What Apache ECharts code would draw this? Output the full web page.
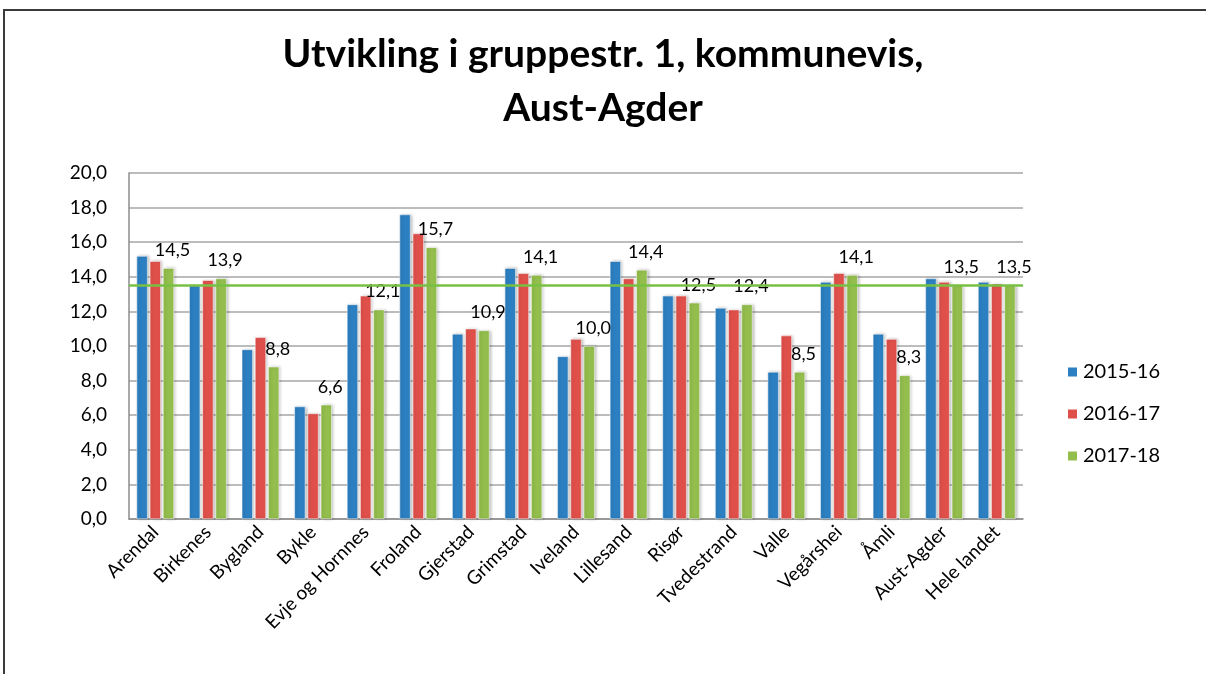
<!DOCTYPE html>
<html>
<head>
<meta charset="utf-8">
<script src="https://cdn.jsdelivr.net/npm/echarts@6/dist/echarts.min.js"></script>
<style>
  html, body { margin: 0; padding: 0; background: #fff; }
  #container { width: 1206px; height: 674px; }
</style>
</head>
<body>
<div id="container"></div>
<script>
var categories = ['Arendal', 'Birkenes', 'Bygland', 'Bykle', 'Evje og Hornnes', 'Froland', 'Gjerstad',
    'Grimstad', 'Iveland', 'Lillesand', 'Risør', 'Tvedestrand', 'Valle', 'Vegårshei', 'Åmli',
    'Aust-Agder', 'Hele landet'];
var v2015 = [15.2, 13.5, 9.8, 6.5, 12.4, 17.6, 10.7, 14.5, 9.4, 14.9, 12.9, 12.2, 8.5, 13.7, 10.7, 13.9, 13.7];
var v2016 = [14.9, 13.8, 10.5, 6.1, 12.9, 16.5, 11.0, 14.2, 10.4, 13.9, 12.9, 12.1, 10.6, 14.2, 10.4, 13.7, 13.6];
var v2017 = [14.5, 13.9, 8.8, 6.6, 12.1, 15.7, 10.9, 14.1, 10.0, 14.4, 12.5, 12.4, 8.5, 14.1, 8.3, 13.5, 13.5];
var seriesNames = ['2015-16', '2016-17', '2017-18'];
var nationalLevel = 13.5;

window.onload = function () {
    var dom = document.getElementById('container');
    var myChart = echarts.init(dom);
    var font = 'Lato, "Open Sans", sans-serif';
    function fmt(v) { return v.toFixed(1).replace('.', ','); }
    var barStyle = function (color) {
        return {
            color: color,
            borderColor: '#ffffff',
            borderWidth: 0.5,
            shadowColor: 'rgba(0,0,0,0.25)',
            shadowBlur: 3,
            shadowOffsetX: 1.5,
            shadowOffsetY: 0
        };
    };
    var option = {
        animation: false,
        textStyle: { fontFamily: font },
        title: {
            text: 'Utvikling i gruppestr. 1, kommunevis,\nAust-Agder',
            left: 'center',
            top: 22,
            textStyle: { fontFamily: font, fontWeight: 'bold', fontSize: 39, lineHeight: 54, color: '#000' }
        },
        graphic: [{
            type: 'rect',
            shape: { x: 4, y: 10, width: 1400, height: 900 },
            style: { fill: 'none', stroke: '#3a3a3a', lineWidth: 2 },
            silent: true
        }],
        legend: {
            orient: 'vertical',
            left: 1061,
            top: 357,
            itemWidth: 11,
            itemHeight: 11,
            itemGap: 22,
            icon: 'rect',
            textStyle: { fontFamily: font, fontSize: 20, color: '#000' },
            data: seriesNames
        },
        grid: { left: 129, right: 183, top: 173, bottom: 155 },
        xAxis: {
            type: 'category',
            data: categories,
            axisLine: { lineStyle: { color: '#8c8c8c', width: 1.5 } },
            axisTick: { show: false },
            axisLabel: { rotate: 45, margin: 10, fontSize: 19, color: '#000', fontFamily: font, interval: 0 }
        },
        yAxis: {
            type: 'value',
            min: 0,
            max: 20,
            interval: 2,
            axisLine: { show: true, lineStyle: { color: '#8c8c8c', width: 1.5 } },
            axisTick: { show: false },
            splitLine: { lineStyle: { color: '#a6a6a6', width: 1.5 } },
            axisLabel: { fontSize: 19, color: '#000', fontFamily: font, margin: 22, formatter: fmt }
        },
        series: [{
            name: seriesNames[0],
            type: 'bar',
            data: v2015,
            barWidth: 11,
            barGap: '20%',
            itemStyle: barStyle('#2c7fc1')
        }, {
            name: seriesNames[1],
            type: 'bar',
            data: v2016,
            barWidth: 11,
            barGap: '20%',
            itemStyle: barStyle('#e0504b')
        }, {
            name: seriesNames[2],
            type: 'bar',
            data: v2017,
            barWidth: 11,
            barGap: '20%',
            itemStyle: barStyle('#93bd4c'),
            label: {
                show: true,
                position: 'top',
                distance: 9,
                offset: [4, 0],
                fontSize: 18,
                color: '#000',
                fontFamily: font,
                formatter: function (p) { return fmt(p.value); }
            },
            markLine: {
                silent: true,
                symbol: 'none',
                label: { show: false },
                lineStyle: { color: '#77c043', width: 2.5, type: 'solid' },
                data: [{ yAxis: nationalLevel }]
            },
            z: 3
        }]
    };
    myChart.setOption(option);
};
</script>
</body>
</html>
